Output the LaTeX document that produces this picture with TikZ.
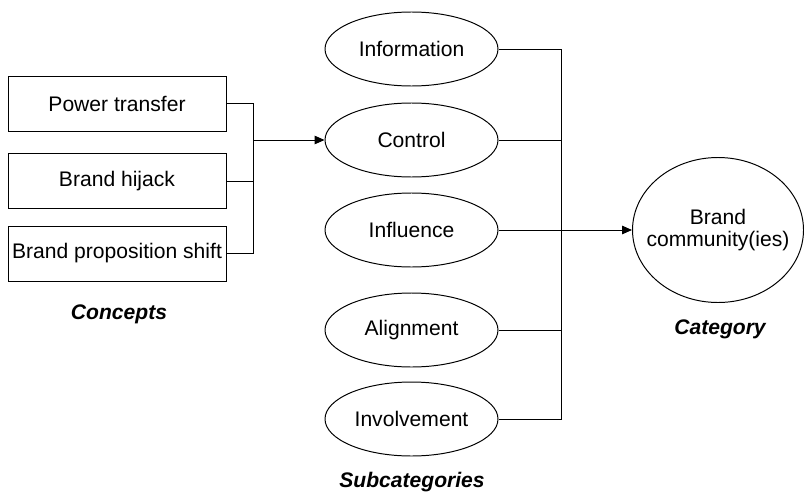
\documentclass[tikz,border=0pt]{standalone}
\usepackage{fontspec}
\setmainfont{Liberation Sans}
\usetikzlibrary{shapes.geometric, arrows.meta, positioning, calc}

\begin{document}
\begin{tikzpicture}[
		font=\fontsize{15}{15.6}\selectfont,
		line width=0.7pt,
		concept/.style={draw, rectangle, minimum width=5.45cm, minimum height=1.375cm, inner sep=0pt},
		subcat/.style={draw, ellipse, minimum width=4.325cm, minimum height=1.85cm, inner sep=0pt},
		heading/.style={font=\fontsize{15}{15.6}\selectfont\bfseries\itshape},
		tip/.style={-{Triangle[length=7pt,width=6pt]}}
	]
		\useasboundingbox (0,0) rectangle (20.1,-12.3);

		\node[concept] (power) at (2.925,-2.5875) {Power transfer};
		\node[concept] (hijack) at (2.925,-4.525) {Brand hijack};
		\node[concept] (shift) at (2.925,-6.3375) {Brand proposition shift};

		\node[subcat] (info) at (10.2875,-1.225) {Information};
		\node[subcat] (control) at (10.2875,-3.5) {Control};
		\node[subcat] (influence) at (10.2875,-5.75) {Influence};
		\node[subcat] (align) at (10.2875,-8.25) {Alignment};
		\node[subcat] (involve) at (10.2875,-10.475) {Involvement};

		\node[draw, ellipse, minimum width=4.275cm, minimum height=3.625cm, inner xsep=-0.4cm, inner ysep=0pt, align=center] (community) at (17.95,-5.75) {Brand\\community(ies)};

		\coordinate (jn) at (6.325,-3.5);
		\coordinate (jr) at (14.025,-5.75);

		% Concepts into subcategory
		\draw (power.east) -| (jn);
		\draw (hijack.east) -| (jn);
		\draw (shift.east) -| (jn);
		\draw[tip] (jn) -- (control.west);

		% Subcategories into category
		\draw (info.east) -| (jr);
		\draw (control.east) -| (jr);
		\draw (align.east) -| (jr);
		\draw (involve.east) -| (jr);
		\draw[tip] (influence.east) -- (community.west);

		% Headings
		\node[heading] (hconcepts) at (2.975,-7.85) {Concepts};
		\node[heading] (hsub) at (10.3,-12.05) {Subcategories};
		\node[heading] (hcat) at (18.0,-8.225) {Category};
	\end{tikzpicture}
\end{document}
